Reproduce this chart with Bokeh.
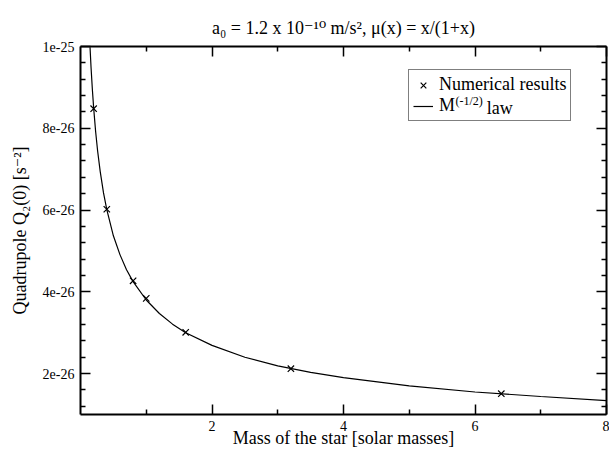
from bokeh.plotting import figure
from bokeh.models import LinearAxis, FixedTicker, Range1d, Label, Legend, LegendItem
from bokeh.embed import file_html
from bokeh.resources import INLINE

# ---------------- data ----------------
mass_numerical = [0.2, 0.4, 0.8, 1.0, 1.6, 3.2, 6.4]
q2_numerical = [8.48e-26, 6.02e-26, 4.27e-26, 3.84e-26, 3.01e-26, 2.12e-26, 1.51e-26]

mass_law = [0.145, 0.16, 0.18, 0.2, 0.23, 0.26, 0.3, 0.35, 0.4, 0.5, 0.6, 0.7, 0.8,
            1.0, 1.2, 1.4, 1.6, 2.0, 2.5, 3.0, 3.5, 4.0, 5.0, 6.0, 7.0, 8.0]
q2_law = [9.98e-26, 9.50e-26, 8.96e-26, 8.50e-26, 7.92e-26, 7.45e-26, 6.94e-26, 6.42e-26,
          6.01e-26, 5.37e-26, 4.91e-26, 4.54e-26, 4.25e-26, 3.80e-26, 3.47e-26, 3.21e-26,
          3.00e-26, 2.69e-26, 2.40e-26, 2.19e-26, 2.03e-26, 1.90e-26, 1.70e-26, 1.55e-26,
          1.44e-26, 1.34e-26]

x_ticks = [2, 4, 6, 8]
x_minor_ticks = [1, 3, 5, 7]
y_ticks = [2e-26, 4e-26, 6e-26, 8e-26, 1e-25]
y_tick_labels = ["2e-26", "4e-26", "6e-26", "8e-26", "1e-25"]
y_minor_ticks = [1.2e-26, 1.6e-26, 2.4e-26, 2.8e-26, 3.2e-26, 3.6e-26, 4.4e-26, 4.8e-26,
                 5.2e-26, 5.6e-26, 6.4e-26, 6.8e-26, 7.2e-26, 7.6e-26, 8.4e-26, 8.8e-26,
                 9.2e-26, 9.6e-26]

title_text = "a\u2080 = 1.2 x 10\u207b\u00b9\u2070 m/s\u00b2, \u03bc(x) = x/(1+x)"
ylabel_text = "Quadrupole Q\u2082(0) [s\u207b\u00b2]"
xlabel_text = "Mass of the star [solar masses]"
legend_label_1 = "Numerical results"
legend_label_2 = "M"
legend_label_2_sup = "(-1/2)"
legend_label_2_rest = "law"

FONT = "Liberation Serif"
FONT_FALLBACK = "'Liberation Serif', 'DejaVu Serif', serif"

# frame geometry (page px)
FL, FT, FW, FH = 80, 46, 526, 368

p = figure(frame_width=FW, frame_height=FH,
           x_range=Range1d(0, 8), y_range=Range1d(1e-26, 1e-25),
           output_backend="svg", toolbar_location=None,
           min_border_left=FL, min_border_top=FT,
           min_border_right=3, min_border_bottom=35)
p.grid.visible = False
p.outline_line_color = None
p.background_fill_color = "white"
p.border_fill_color = "white"

p.title.text = title_text
p.title.align = "center"
p.title.text_font = FONT_FALLBACK
p.title.text_font_size = "18px"
p.title.text_font_style = "normal"
p.title.text_color = "black"
p.title.standoff = 17

xt = FixedTicker(ticks=x_ticks, minor_ticks=x_minor_ticks)
yt = FixedTicker(ticks=y_ticks, minor_ticks=y_minor_ticks)


def style_axis(ax, labels=True):
    ax.axis_line_color = "black"
    ax.axis_line_width = 2
    ax.major_tick_line_color = "black"
    ax.major_tick_line_width = 1.5
    ax.minor_tick_line_color = "black"
    ax.minor_tick_line_width = 1.5
    ax.major_tick_in = 10
    ax.major_tick_out = 0
    ax.minor_tick_in = 5
    ax.minor_tick_out = 0
    ax.major_label_text_font = FONT
    ax.major_label_text_color = "black"
    ax.axis_label_text_font = FONT_FALLBACK
    ax.axis_label_text_font_size = "18px"
    ax.axis_label_text_font_style = "normal"
    ax.axis_label_text_color = "black"
    if labels:
        ax.major_label_text_font_size = "14px"
        ax.major_label_standoff = 6
    else:
        ax.major_label_text_font_size = "1px"
        ax.major_label_standoff = 0


xa = p.xaxis[0]
xa.ticker = xt
style_axis(xa)
xa.axis_label = xlabel_text
xa.axis_label_standoff = -6

ya = p.yaxis[0]
ya.ticker = yt
ya.major_label_overrides = {v: s for v, s in zip(y_ticks, y_tick_labels)}
style_axis(ya)
ya.axis_label = ylabel_text
ya.axis_label_standoff = 10

top = LinearAxis(ticker=xt)
style_axis(top, labels=False)
top.major_label_overrides = {v: "" for v in x_ticks}
p.add_layout(top, "above")
right = LinearAxis(ticker=yt)
style_axis(right, labels=False)
right.major_label_overrides = {v: "" for v in y_ticks}
p.add_layout(right, "right")

ln = p.line(mass_law, q2_law, line_color="black", line_width=1.2)
sc = p.scatter(mass_numerical, q2_numerical, marker="x", size=9,
               line_color="black", line_width=1.2)

# legend (location = bottom-left corner, frame coordinates)
LEG_L, LEG_T = 408, 73
PAD, ROW = 4, 20
LEG_H = 2 * PAD + 2 * ROW
legend = Legend(items=[LegendItem(label=legend_label_1, renderers=[sc]),
                       LegendItem(label=legend_label_2, renderers=[ln])],
                location=(LEG_L - FL, FT + FH - (LEG_T + LEG_H)))
legend.border_line_color = "black"
legend.border_line_width = 1
legend.background_fill_alpha = 0
legend.label_text_font = FONT
legend.label_text_font_size = "18px"
legend.label_text_color = "black"
legend.glyph_width = 20
legend.glyph_height = ROW
legend.label_height = ROW
legend.label_standoff = 6
legend.padding = PAD
legend.spacing = 0
legend.margin = 0
p.add_layout(legend)


def add_label(text, px, py, size):
    p.add_layout(Label(x=0, y=1e-25, x_offset=px - FL, y_offset=FT - py, text=text,
                       text_font=FONT, text_font_size=f"{size}px", text_color="black",
                       text_align="left", text_baseline="middle"))


# superscript part of second legend entry
leg_text_x = LEG_L + PAD + 20 + 6
row2_mid = LEG_T + PAD + ROW + ROW / 2
m_w = 0.889 * 18
sup_w = 2.277 * 12
add_label(legend_label_2_sup, leg_text_x + m_w + 1, row2_mid - 7, 12)
add_label(legend_label_2_rest, leg_text_x + m_w + 1 + sup_w + 4, row2_mid, 18)

open("out.html", "w").write(file_html(p, INLINE))
